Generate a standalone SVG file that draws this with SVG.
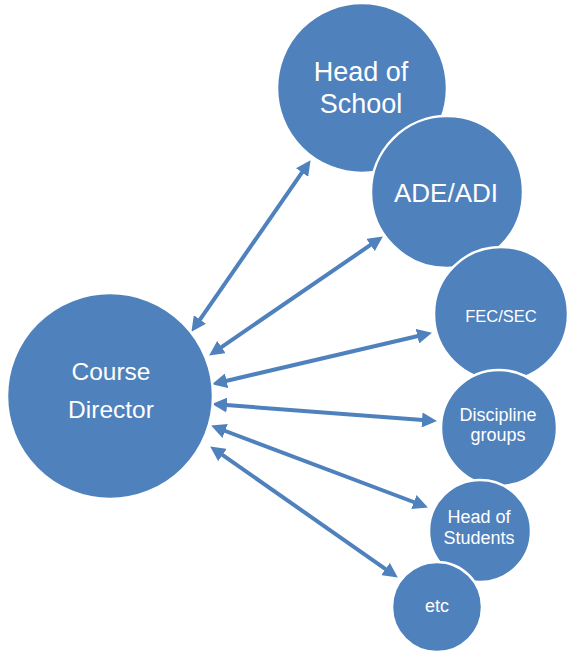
<svg xmlns="http://www.w3.org/2000/svg" width="567" height="653" viewBox="0 0 567 653">
  <style>
    .node circle { fill: #4F81BD; stroke: #FFFFFF; stroke-width: 2.5; }
    .node text { fill: #FFFFFF; font-family: "Liberation Sans", Arial, sans-serif; text-anchor: middle; }
    .link { stroke: #4F81BD; stroke-width: 4; fill: none; marker-start: url(#head); marker-end: url(#head); }
  </style>
  <defs>
    <marker id="head" markerUnits="userSpaceOnUse" markerWidth="17" markerHeight="15" refX="4" refY="7.5" orient="auto-start-reverse">
      <path d="M0,0 L15,7.5 L0,15 z" fill="#4F81BD"/>
    </marker>
  </defs>

  <rect width="567" height="653" fill="#FFFFFF"/>

  <!-- connectors between Course Director and the other roles -->
  <g id="connectors">
    <line class="link" x1="197.7" y1="322.8" x2="304.3" y2="169.2"/>
    <line class="link" x1="218.2" y1="349.3" x2="373.8" y2="242.7"/>
    <line class="link" x1="222.7" y1="381.7" x2="421.3" y2="335.3"/>
    <line class="link" x1="223" y1="404.8" x2="426" y2="420.2"/>
    <line class="link" x1="221.4" y1="429.5" x2="417.6" y2="503.5"/>
    <line class="link" x1="219.2" y1="452.7" x2="388.8" y2="571.3"/>
  </g>

  <g id="course-director" class="node">
    <circle cx="110" cy="396" r="103"/>
    <text x="111" y="380" font-size="24.5">Course</text>
    <text x="111" y="418" font-size="24.5">Director</text>
  </g>

  <g id="head-of-school" class="node">
    <circle cx="362" cy="88" r="85"/>
    <text x="361" y="81" font-size="27">Head of</text>
    <text x="361" y="113" font-size="27">School</text>
  </g>

  <g id="ade-adi" class="node">
    <circle cx="447" cy="192" r="76"/>
    <text x="446" y="202" font-size="26">ADE/ADI</text>
  </g>

  <g id="fec-sec" class="node">
    <circle cx="501" cy="314" r="67"/>
    <text x="501" y="322" font-size="16.5">FEC/SEC</text>
  </g>

  <g id="discipline-groups" class="node">
    <circle cx="499" cy="428" r="58"/>
    <text x="498" y="421" font-size="18">Discipline</text>
    <text x="498" y="441" font-size="18">groups</text>
  </g>

  <g id="head-of-students" class="node">
    <circle cx="480" cy="531" r="51"/>
    <text x="479" y="523" font-size="18">Head of</text>
    <text x="479" y="544" font-size="18">Students</text>
  </g>

  <g id="etc" class="node">
    <circle cx="437" cy="607" r="45"/>
    <text x="437" y="612" font-size="18">etc</text>
  </g>
</svg>
